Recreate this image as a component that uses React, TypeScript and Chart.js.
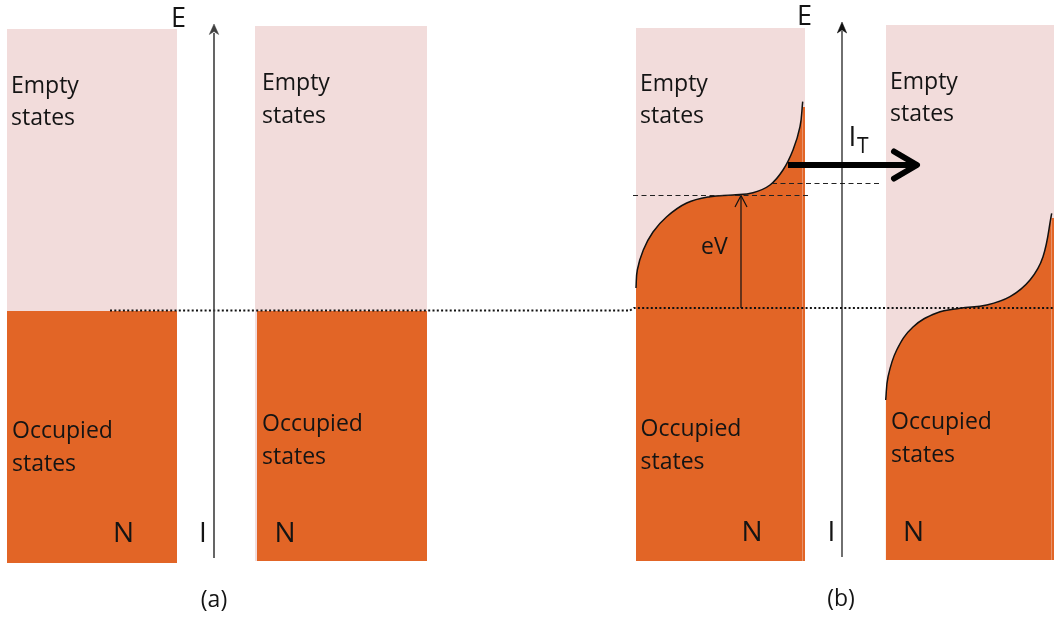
import React, { useEffect, useRef } from "react";
import { Chart, registerables } from "chart.js";

Chart.register(...registerables);

const PINK = "#F2DCDB";
const ORANGE = "#E26526";
const INK = "#141414";

// Bands: [xLeft, xRight, yTop, yBottom] in diagram units (y grows downward)
const emptyBands: number[][] = [
  [7, 177, 29, 563],
  [255, 427, 26, 561],
  [636, 805, 28, 561],
  [886, 1054, 25, 560],
];
const occupiedBands: number[][] = [
  [7, 177, 311, 563],
  [257, 427, 311, 561],
];
const occupiedStrips: number[][] = [
  [802.5, 805, 107, 561],
  [1051.5, 1054, 218, 560],
];

// Occupation edges in panel (b)
const fermiEdgeTip: number[][] = [
  [636, 288], [637.3, 270], [643.3, 250], [653, 232], [666.7, 216.7], [686.7, 203],
  [710, 196.7], [733, 195], [753, 192.7], [770, 185], [783, 170], [793, 150],
  [800, 126.7], [802.7, 101.7],
];
const fermiEdgeSample: number[][] = [
  [885.7, 400], [888, 377], [896.7, 350], [913, 327], [936.7, 313], [960, 308.3],
  [986.7, 305], [1010, 296.7], [1030, 280], [1043, 256.7], [1051.7, 213.3],
];

// Fermi levels (dotted)
const fermiLevelA: number[][] = [[110, 310.5], [630, 310.5]];
const fermiLevelB: number[][] = [[630, 310.5], [634, 308], [1054, 308]];

// Dashed reference levels in (b)
const dashedLevels: number[][][] = [
  [[633, 195.5], [808, 195.5]],
  [[772, 183.5], [882, 183.5]],
];

// Energy axes
const axisA: number[][] = [[214, 33], [214, 558]];
const axisB: number[][] = [[842, 31], [842, 557]];
const axisHeadA: number[][] = [[209.3, 34.5], [214, 24], [218.7, 34.5], [214, 31.5], [209.3, 34.5]];
const axisHeadB: number[][] = [[837.3, 33], [842, 22], [846.7, 33], [842, 30], [837.3, 33]];

// eV arrow
const eVShaft: number[][] = [[741, 308], [741, 196]];
const eVHead: number[][] = [[735, 207], [741, 195.5], [747, 207]];

// Tunnel current arrow
const currentShaft: number[][] = [[788, 165], [914, 165]];
const currentHead: number[][] = [[894, 151.5], [917, 165], [894, 178.5]];

type Label = { t: string; x: number; y: number; size: number; align?: CanvasTextAlign; base?: CanvasTextBaseline };
const labels: Label[] = [
  { t: "E", x: 171, y: 27, size: 27 },
  { t: "E", x: 797, y: 24.5, size: 27 },
  { t: "Empty", x: 11, y: 93, size: 23 },
  { t: "states", x: 11, y: 125, size: 23 },
  { t: "Empty", x: 262, y: 90, size: 23 },
  { t: "states", x: 262, y: 122.5, size: 23 },
  { t: "Empty", x: 640, y: 91, size: 23 },
  { t: "states", x: 640, y: 123, size: 23 },
  { t: "Empty", x: 890, y: 89, size: 23 },
  { t: "states", x: 890, y: 120.5, size: 23 },
  { t: "Occupied", x: 12, y: 438, size: 23 },
  { t: "states", x: 12, y: 471, size: 23 },
  { t: "Occupied", x: 262, y: 431, size: 23 },
  { t: "states", x: 262, y: 463.5, size: 23 },
  { t: "Occupied", x: 640.5, y: 436, size: 23 },
  { t: "states", x: 640.5, y: 468.5, size: 23 },
  { t: "Occupied", x: 891, y: 428.5, size: 23 },
  { t: "states", x: 891, y: 461.5, size: 23 },
  { t: "N", x: 113, y: 542, size: 28 },
  { t: "I", x: 199, y: 542, size: 28 },
  { t: "N", x: 274.5, y: 542, size: 28 },
  { t: "N", x: 741.5, y: 541, size: 28 },
  { t: "I", x: 827.5, y: 541, size: 28 },
  { t: "N", x: 903, y: 541, size: 28 },
  { t: "eV", x: 701, y: 254, size: 23 },
  { t: "I", x: 848.5, y: 145.5, size: 28 },
  { t: "T", x: 857, y: 152.5, size: 21 },
  { t: "(a)", x: 214, y: 600, size: 23, align: "center", base: "middle" },
  { t: "(b)", x: 841, y: 599, size: 23, align: "center", base: "middle" },
];

const toPts = (arr: number[][]) => arr.map(([x, y]) => ({ x, y }));

export default function App() {
  const ref = useRef<HTMLCanvasElement | null>(null);

  useEffect(() => {
    if (!ref.current) return;
    const list: any[] = [];
    const base = {
      showLine: true,
      pointRadius: 0,
      pointHoverRadius: 0,
      tension: 0,
      borderWidth: 1,
      borderColor: INK,
      backgroundColor: "transparent",
      fill: false,
    };
    emptyBands.forEach(([x0, x1, yt, yb]) =>
      list.push({ ...base, data: toPts([[x0, yt], [x1, yt]]), borderWidth: 0, borderColor: "transparent", backgroundColor: PINK, fill: { value: yb } })
    );
    occupiedBands.concat(occupiedStrips).forEach(([x0, x1, yt, yb]) =>
      list.push({ ...base, data: toPts([[x0, yt], [x1, yt]]), borderWidth: 0, borderColor: "transparent", backgroundColor: ORANGE, fill: { value: yb } })
    );
    list.push({ ...base, data: toPts(fermiEdgeTip), tension: 0.4, borderWidth: 1.5, borderColor: "#111", backgroundColor: ORANGE, fill: { value: 561 } });
    list.push({ ...base, data: toPts(fermiEdgeSample), tension: 0.4, borderWidth: 1.5, borderColor: "#111", backgroundColor: ORANGE, fill: { value: 560 } });
    list.push({ ...base, data: toPts(fermiLevelA), borderWidth: 2, borderDash: [2, 2.3], borderColor: "#111" });
    list.push({ ...base, data: toPts(fermiLevelB), borderWidth: 2, borderDash: [2, 2.3], borderColor: "#111" });
    dashedLevels.forEach((d) => list.push({ ...base, data: toPts(d), borderWidth: 1.2, borderDash: [5, 3.5], borderColor: "#222" }));
    list.push({ ...base, data: toPts(axisA), borderWidth: 1.6, borderColor: "#404040" });
    list.push({ ...base, data: toPts(axisB), borderWidth: 1.2, borderColor: "#111" });
    list.push({ ...base, data: toPts(axisHeadA), borderWidth: 0.5, borderColor: "#404040", backgroundColor: "#404040", fill: "shape" });
    list.push({ ...base, data: toPts(axisHeadB), borderWidth: 0.5, borderColor: "#111", backgroundColor: "#111", fill: "shape" });
    list.push({ ...base, data: toPts(eVShaft), borderWidth: 1.2, borderColor: "#111" });
    list.push({ ...base, data: toPts(eVHead), borderWidth: 1.2, borderColor: "#111" });
    list.push({ ...base, data: toPts(currentShaft), borderWidth: 6, borderColor: "#000", borderCapStyle: "butt" });
    list.push({ ...base, data: toPts(currentHead), borderWidth: 6, borderColor: "#000", borderCapStyle: "round", borderJoinStyle: "round" });
    list.forEach((d, i) => (d.order = list.length - i));

    const textPlugin = {
      id: "diagramText",
      afterDatasetsDraw(chart: any) {
        const { ctx, scales } = chart;
        ctx.save();
        ctx.fillStyle = INK;
        for (const l of labels) {
          ctx.font = `${l.size}px "Open Sans", "Noto Sans", sans-serif`;
          ctx.textAlign = l.align || "left";
          ctx.textBaseline = l.base || "alphabetic";
          ctx.fillText(l.t, scales.x.getPixelForValue(l.x), scales.y.getPixelForValue(l.y));
        }
        ctx.restore();
      },
    };

    const chart = new Chart(ref.current, {
      type: "scatter",
      data: { datasets: list },
      options: {
        animation: false,
        responsive: false,
        devicePixelRatio: 1,
        events: [],
        layout: { padding: 0 },
        scales: {
          x: { type: "linear", min: 0, max: 1054, display: false },
          y: { type: "linear", min: 0, max: 619, reverse: true, display: false },
        },
        plugins: { legend: { display: false }, tooltip: { enabled: false } },
      },
      plugins: [textPlugin],
    } as any);
    return () => chart.destroy();
  }, []);

  return (
    <div style={{ position: "fixed", left: 0, top: 0, width: 1054, height: 619, background: "#fff" }}>
      <canvas ref={ref} width={1054} height={619} style={{ display: "block" }} />
    </div>
  );
}
